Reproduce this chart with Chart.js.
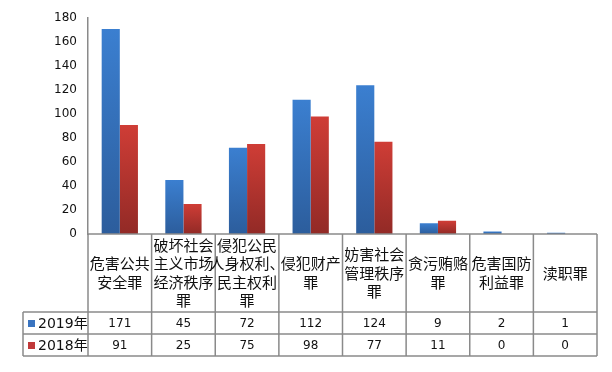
<!DOCTYPE html>
<html>
<head>
<meta charset="utf-8">
<script src="https://cdn.jsdelivr.net/npm/chart.js@4.4.1/dist/chart.umd.min.js"></script>
<style>
  html, body { margin: 0; padding: 0; background: #fff; }
  #wrap { width: 612px; height: 372px; }
</style>
</head>
<body>
<div id="wrap"><canvas id="crimeChart" width="612" height="372"></canvas></div>
<script>
  const categories = [
    ['危害公共', '安全罪'],
    ['破坏社会', '主义市场', '经济秩序', '罪'],
    ['侵犯公民', '人身权利、', '民主权利', '罪'],
    ['侵犯财产', '罪'],
    ['妨害社会', '管理秩序', '罪'],
    ['贪污贿赂', '罪'],
    ['危害国防', '利益罪'],
    ['渎职罪']
  ];
  const seriesNames = ['2019年', '2018年'];
  const values2019 = [171, 45, 72, 112, 124, 9, 2, 1];
  const values2018 = [91, 25, 75, 98, 77, 11, 0, 0];
  const yTicks = [0, 20, 40, 60, 80, 100, 120, 140, 160, 180];

  const numFont = '12px "DejaVu Sans", Verdana, sans-serif';
  const cjkFont = '15px "Noto Sans CJK SC", sans-serif';
  const lineColor = '#8a8a8a';

  // each bar gets its own top-to-bottom shading, like the office chart
  function barGradient(top, bottom) {
    return function (context) {
      const chart = context.chart;
      const area = chart.chartArea;
      if (!area || context.raw === undefined || !chart.scales.y) return top;
      const yTop = chart.scales.y.getPixelForValue(context.raw);
      if (area.bottom - yTop < 1) return top;
      const g = chart.ctx.createLinearGradient(0, yTop, 0, area.bottom);
      g.addColorStop(0, top);
      g.addColorStop(1, bottom);
      return g;
    };
  }

  // data table under the plot, columns follow the x scale
  const dataTable = {
    id: 'dataTable',
    afterDraw: function (chart) {
      const ctx = chart.ctx;
      const area = chart.chartArea;
      const xs = chart.scales.x;
      const n = categories.length;
      const colW = (area.right - area.left) / n;
      const top = area.bottom;
      const headBottom = top + 78;
      const rowH = 22;
      const legendLeft = 23;
      const rows = [values2019, values2018];
      const keyColors = ['#3a74c0', '#c0393a'];

      ctx.save();
      ctx.strokeStyle = lineColor;
      ctx.lineWidth = 1.5;
      ctx.beginPath();
      ctx.moveTo(area.left, top);
      ctx.lineTo(area.right, top);
      for (let r = 0; r <= rows.length; r++) {
        ctx.moveTo(legendLeft, headBottom + r * rowH);
        ctx.lineTo(area.right, headBottom + r * rowH);
      }
      ctx.moveTo(legendLeft, headBottom);
      ctx.lineTo(legendLeft, headBottom + rows.length * rowH);
      for (let i = 0; i <= n; i++) {
        const x = area.left + i * colW;
        ctx.moveTo(x, top);
        ctx.lineTo(x, headBottom + rows.length * rowH);
      }
      ctx.stroke();

      ctx.fillStyle = '#111';
      ctx.textAlign = 'center';
      ctx.textBaseline = 'middle';
      ctx.font = cjkFont;
      const lh = 18.5;
      categories.forEach(function (lines, i) {
        const cx = xs.getPixelForValue(i);
        const cy = (top + headBottom) / 2 - (lines.length - 1) * lh / 2;
        lines.forEach(function (t, k) {
          ctx.fillText(t, cx, cy + k * lh);
        });
      });

      ctx.font = numFont;
      rows.forEach(function (vals, r) {
        const cy = headBottom + r * rowH + rowH / 2 + 1;
        vals.forEach(function (v, i) {
          ctx.fillText(String(v), xs.getPixelForValue(i), cy);
        });
        ctx.fillStyle = keyColors[r];
        ctx.fillRect(28, cy - 4, 7, 7);
        ctx.fillStyle = '#111';
        ctx.textAlign = 'left';
        ctx.font = '14px "DejaVu Sans", "Noto Sans CJK SC", sans-serif';
        ctx.fillText(seriesNames[r], 38, cy);
        ctx.textAlign = 'center';
        ctx.font = numFont;
      });
      ctx.restore();
    }
  };

  new Chart(document.getElementById('crimeChart'), {
    type: 'bar',
    data: {
      labels: categories.map(function (c) { return c.join(''); }),
      datasets: [
        {
          label: seriesNames[0],
          data: values2019,
          backgroundColor: barGradient('#3b7fd0', '#2c5d9c'),
          borderWidth: 0,
          categoryPercentage: 0.57,
          barPercentage: 1.0
        },
        {
          label: seriesNames[1],
          data: values2018,
          backgroundColor: barGradient('#cf3d36', '#922a26'),
          borderWidth: 0,
          categoryPercentage: 0.57,
          barPercentage: 1.0
        }
      ]
    },
    options: {
      responsive: false,
      animation: false,
      layout: { padding: { top: 16, right: 15, bottom: 138, left: 0 } },
      plugins: {
        legend: { display: false },
        tooltip: { enabled: false }
      },
      scales: {
        x: {
          display: false
        },
        y: {
          min: 0,
          max: 180,
          afterFit: function (scale) { scale.width = 88; },
          afterBuildTicks: function (scale) {
            scale.ticks = yTicks.map(function (v) { return { value: v }; });
          },
          grid: { display: false, drawTicks: false },
          border: { display: true, color: lineColor, width: 1.5 },
          ticks: {
            padding: 11,
            color: '#111',
            font: { family: '"DejaVu Sans", Verdana, sans-serif', size: 12 }
          }
        }
      }
    },
    plugins: [dataTable]
  });
</script>
</body>
</html>
